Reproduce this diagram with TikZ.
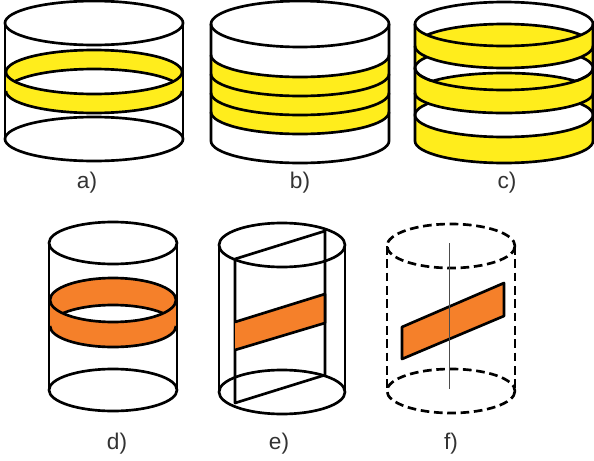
\documentclass[tikz,border=0pt]{standalone}
\usepackage{fontspec}
\setmainfont{Liberation Sans}
\definecolor{bandyellow}{RGB}{255,237,28}
\definecolor{bandorange}{RGB}{245,128,42}
\tikzset{
         cylline/.style={line width=2pt,line join=round},
         dashline/.style={line width=2pt,dash pattern=on 6.5pt off 3.5pt},
         yellowfill/.style={fill=bandyellow},
         orangefill/.style={fill=bandorange},
         figlabel/.style={font=\fontsize{17}{18}\selectfont,text=black!80}
        }
\begin{document}
\begin{tikzpicture}[x=0.75pt,y=-0.75pt]
\useasboundingbox (0,0) rectangle (594,461);
% a) one band
\fill[yellowfill] (94,72) ellipse [x radius=88,y radius=22]; % band fill
\fill[yellowfill] (94,91) ellipse [x radius=88,y radius=22];
\fill[yellowfill] (6,72) rectangle (182,91);
\begin{scope}
\clip (94,72) ellipse [x radius=88,y radius=22];
\fill[white] (94,91) ellipse [x radius=88,y radius=22]; % hole
\draw[cylline] (94,91) ellipse [x radius=88,y radius=22]; % hole top
\end{scope}
\draw[cylline] (94,72) ellipse [x radius=88,y radius=22]; % band upper
\draw[cylline] (6,91) arc [start angle=180,end angle=0,x radius=88,y radius=22]; % band lower
\draw[cylline] (94,23) ellipse [x radius=89,y radius=22]; % top
\draw[cylline] (94,139) ellipse [x radius=89,y radius=22]; % bottom
\draw[cylline] (5,23)--(5,139)(183,23)--(183,139); % sides
\node[figlabel] (lbla) at (87,183) {a)}; % a label
% b) three bands
\fill[yellowfill] (211,55) arc [start angle=180,end angle=0,x radius=89,y radius=22] -- (389,112) arc [start angle=0,end angle=180,x radius=89,y radius=22] -- cycle; % band fill
\draw[cylline] (211,55) arc [start angle=180,end angle=0,x radius=89,y radius=22]; % front 1
\draw[cylline] (211,74) arc [start angle=180,end angle=0,x radius=89,y radius=22]; % front 2
\draw[cylline] (211,93) arc [start angle=180,end angle=0,x radius=89,y radius=22]; % front 3
\draw[cylline] (211,112) arc [start angle=180,end angle=0,x radius=89,y radius=22]; % front 4
\draw[cylline] (300,24) ellipse [x radius=89,y radius=23]; % top
\draw[cylline] (211,24)--(211,141) arc [start angle=180,end angle=0,x radius=89,y radius=22] -- (389,24); % sides and bottom
\node[figlabel] (lblb) at (300,183) {b)}; % b label
% c) all yellow with holes
\fill[yellowfill] (415,24) -- (415,141) arc [start angle=180,end angle=0,x radius=89,y radius=22] -- (593,24) -- cycle; % body fill
\fill[white] (504,24) ellipse [x radius=89,y radius=22]; % top hole
\draw[cylline,fill=white] (504,68) ellipse [x radius=89,y radius=22]; % middle hole
\fill[yellowfill] (504,46) ellipse [x radius=89,y radius=22]; % first band
\draw[cylline,fill=white] (504,115) ellipse [x radius=89,y radius=22]; % lower hole
\fill[yellowfill] (504,93) ellipse [x radius=89,y radius=20]; % second band
\begin{scope}
\clip (504,24) ellipse [x radius=89,y radius=22];
\draw[cylline] (504,46) ellipse [x radius=89,y radius=22]; % first lens top
\end{scope}
\begin{scope}
\clip (504,68) ellipse [x radius=89,y radius=22];
\draw[cylline] (504,93) ellipse [x radius=89,y radius=20]; % second lens top
\end{scope}
\draw[cylline] (415,46) arc [start angle=180,end angle=0,x radius=89,y radius=22]; % first band front
\draw[cylline] (415,68) arc [start angle=180,end angle=0,x radius=89,y radius=22]; % second lens bottom
\draw[cylline] (415,93) arc [start angle=180,end angle=0,x radius=89,y radius=20]; % second band front
\draw[cylline] (504,24) ellipse [x radius=89,y radius=22]; % top
\draw[cylline] (415,24)--(415,141) arc [start angle=180,end angle=0,x radius=89,y radius=22] -- (593,24); % sides and bottom
\node[figlabel] (lblc) at (507,183) {c)}; % c label
% d) orange ring
\fill[orangefill] (113,300) ellipse [x radius=63,y radius=22]; % band fill
\fill[orangefill] (113,326) ellipse [x radius=63,y radius=21];
\fill[orangefill] (50,300) rectangle (176,326);
\begin{scope}
\clip (113,300) ellipse [x radius=63,y radius=22];
\fill[white] (113,326) ellipse [x radius=63,y radius=21]; % hole
\draw[cylline] (113,326) ellipse [x radius=63,y radius=21]; % hole top
\end{scope}
\draw[cylline] (113,300) ellipse [x radius=63,y radius=22]; % band upper
\draw[cylline] (50,326) arc [start angle=180,end angle=0,x radius=63,y radius=21]; % band lower
\draw[cylline] (113,243) ellipse [x radius=64,y radius=21]; % top
\draw[cylline] (113,390) ellipse [x radius=64,y radius=21]; % bottom
\draw[cylline] (49,243)--(49,390)(177,243)--(177,390); % sides
\node[figlabel] (lbld) at (117,444) {d)}; % d label
% e) section along the chord
\draw[cylline] (282,245) ellipse [x radius=63,y radius=22]; % top
\draw[cylline] (282,392) ellipse [x radius=63,y radius=22]; % bottom
\draw[cylline] (219,245)--(219,392)(345,245)--(345,392); % sides
\draw[cylline] (235,259)--(325,231)--(325,375)--(235,403)--cycle; % section
\draw[cylline,orangefill] (235,322)--(325,294)--(325,323)--(235,350); % band
\node[figlabel] (lble) at (279,444) {e)}; % e label
% f) dashed cylinder and axis
\draw[dashline] (451,246) ellipse [x radius=64,y radius=22]; % top
\draw[dashline] (451,391) ellipse [x radius=64,y radius=22]; % bottom
\draw[dashline] (387,246)--(387,391)(515,246)--(515,391); % sides
\draw[cylline,orangefill] (402,327)--(504,283)--(504,316)--(402,359)--cycle; % strip
\draw[line width=0.5pt,black!70] (449,243)--(449,389); % axis
\node[figlabel] (lblf) at (451,444) {f)}; % f label
\end{tikzpicture}
\end{document}
